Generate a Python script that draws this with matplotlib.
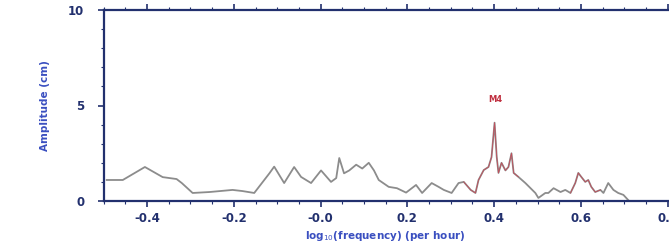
import matplotlib.pyplot as plt
from matplotlib.ticker import MultipleLocator

# log10(frequency) per hour vs amplitude (cm)
log_freq = [-0.493, -0.456, -0.405, -0.364, -0.332, -0.32, -0.295, -0.256, -0.203, -0.18,
            -0.153, -0.118, -0.107, -0.084, -0.061, -0.045, -0.022, 0.001, 0.024, 0.036,
            0.043, 0.054, 0.066, 0.082, 0.096, 0.111, 0.123, 0.134, 0.157, 0.176,
            0.197, 0.22, 0.234, 0.256, 0.272, 0.284, 0.302, 0.318, 0.33, 0.346,
            0.357, 0.364, 0.376, 0.387, 0.394, 0.401, 0.406, 0.41, 0.417, 0.426,
            0.433, 0.44, 0.445, 0.456, 0.472, 0.495, 0.502, 0.518, 0.525, 0.537,
            0.553, 0.564, 0.576, 0.587, 0.594, 0.601, 0.61, 0.617, 0.624, 0.633,
            0.645, 0.652, 0.663, 0.675, 0.686, 0.698, 0.709]
amplitude = [1.1, 1.1, 1.78, 1.25, 1.15, 0.94, 0.42, 0.47, 0.58, 0.52,
             0.42, 1.45, 1.8, 0.94, 1.78, 1.26, 0.94, 1.6, 1.0, 1.2,
             2.25, 1.45, 1.6, 1.9, 1.7, 2.0, 1.6, 1.1, 0.74, 0.67,
             0.44, 0.84, 0.42, 0.94, 0.74, 0.58, 0.42, 0.94, 1.0, 0.58,
             0.42, 1.1, 1.62, 1.78, 2.3, 4.1, 2.3, 1.47, 2.0, 1.6,
             1.78, 2.5, 1.47, 1.26, 0.94, 0.42, 0.16, 0.42, 0.42, 0.67,
             0.47, 0.58, 0.42, 0.94, 1.47, 1.26, 1.0, 1.1, 0.74, 0.47,
             0.58, 0.42, 0.94, 0.58, 0.42, 0.32, 0.05]
red_bands = [(0.33, 0.46), (0.57, 0.65)]
peak_label = "M4"
xtick_vals = [-0.4, -0.2, 0.0, 0.2, 0.4, 0.6, 0.8]
xtick_text = ["-0.4", "-0.2", "-0.0", "0.2", "0.4", "0.6", "0.8"]

navy = "#22306e"
blue = "#3a4fc0"

fig = plt.figure(figsize=(6.69, 2.5), dpi=100)
ax = fig.add_axes([0.155, 0.196, 0.843, 0.764])

ax.plot(log_freq, amplitude, color="#8c8c8c", linewidth=1.3)
for lo, hi in red_bands:
    xs = [x for x in log_freq if lo <= x <= hi]
    ys = [y for x, y in zip(log_freq, amplitude) if lo <= x <= hi]
    ax.plot(xs, ys, color="#d04050", linewidth=0.6, alpha=0.8)

ax.text(0.402, 5.1, peak_label, color="#c03040", fontsize=6, fontweight="bold",
        ha="center", va="bottom")

ax.set_xlim(-0.5, 0.8)
ax.set_ylim(0, 10)
ax.set_xticks(xtick_vals)
ax.set_xticklabels(xtick_text)
ax.set_yticks([0, 5, 10])
ax.xaxis.set_minor_locator(MultipleLocator(0.05))
ax.yaxis.set_minor_locator(MultipleLocator(1))

for side in ["left", "bottom", "top"]:
    ax.spines[side].set_color(navy)
    ax.spines[side].set_linewidth(1.6)
ax.spines["right"].set_visible(False)

ax.tick_params(which="both", direction="out", colors=navy, top=True, right=False)
ax.tick_params(which="major", length=4, width=1.2, labelsize=8.5, pad=4)
ax.tick_params(axis="y", which="major", pad=10)
ax.tick_params(which="minor", length=2.5, width=0.8)
for lab in ax.get_xticklabels() + ax.get_yticklabels():
    lab.set_fontweight("bold")

ax.set_ylabel("Amplitude (cm)", color=blue, fontsize=7.5, fontweight="bold", labelpad=13)
ax.set_xlabel("log$_{10}$(frequency) (per hour)", color=blue, fontsize=7.5,
              fontweight="bold", labelpad=3)

fig.savefig("out.png", dpi=100)
